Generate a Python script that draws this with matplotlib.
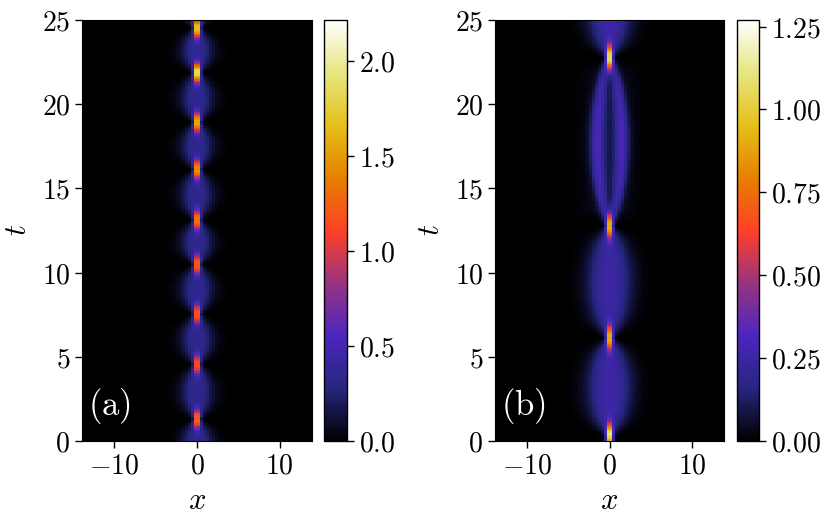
import numpy as np
import matplotlib
matplotlib.use('Agg')
import matplotlib.pyplot as plt

plt.rcParams['mathtext.fontset'] = 'cm'
plt.rcParams['font.family'] = 'serif'
plt.rcParams['font.serif'] = ['DejaVu Serif']

# grid seen in the picture
x_lim = 13.9
t_max = 25.0
nx, nt = 78, 260

# panel (a): bright peaks (time, height)
peaks_a_t = [1.25, 4.5, 7.5, 10.45, 13.1, 16.1, 18.9, 21.85, 24.5]
peaks_a_h = [1.45, 1.3, 1.35, 1.4, 1.55, 1.7, 1.85, 2.21, 2.0]
# blobs between peaks: edges, level, half width
blob_a_edges = [-1.7] + peaks_a_t + [27.4]
blob_a_level = [0.38] * 10
blob_a_width = [1.35] * 10
blob_a_ring = [False] * 10

# panel (b)
peaks_b_t = [0.25, 6.1, 12.75, 22.75]
peaks_b_h = [1.27, 1.0, 1.02, 1.2]
blob_b_edges = [0.25, 6.1, 12.75, 22.75, 29.0]
blob_b_level = [0.27, 0.26, 0.25, 0.27]
blob_b_width = [2.1, 2.1, 1.55, 2.2]
blob_b_ring = [False, False, True, False]

cb_a_ticks = [0.0, 0.5, 1.0, 1.5, 2.0]
cb_b_ticks = [0.0, 0.25, 0.5, 0.75, 1.0, 1.25]


def build_field(pk_t, pk_h, edges, levels, widths, rings, st, sx):
    x = np.linspace(-x_lim, x_lim, nx)
    t = np.linspace(0, t_max, nt)
    X, T = np.meshgrid(x, t)
    field = np.zeros_like(X)
    # blobs / rings
    for i in range(len(levels)):
        ta, tb = edges[i], edges[i + 1]
        s = np.clip((T - ta) / (tb - ta), 0, 1)
        env = np.sin(np.pi * s)
        if rings[i]:
            R = widths[i] * env ** 0.6
            d = 0.5 + 0.35 * env
            ridge = np.exp(-((np.abs(X) - R) / d) ** 2)
            field += levels[i] * env ** 0.3 * (ridge + 0.12 * np.exp(-(X / (R + 0.3)) ** 2))
        else:
            W = 0.3 + widths[i] * env ** 0.55
            prof = np.exp(-(X / W) ** 2) * (1 - 0.25 * env * np.exp(-(X / (0.5 * W)) ** 2))
            field += levels[i] * env ** 0.3 * prof
    # faint halo, cut out next to the peaks
    neck = np.zeros_like(X)
    for tk in pk_t:
        neck = np.maximum(neck, np.exp(-((T - tk) / 0.7) ** 2))
    field += 0.05 * np.exp(-(X / 3.0) ** 2) * (1 - 0.9 * neck)
    # bright peaks
    for tk, h in zip(pk_t, pk_h):
        field += h * np.exp(-((T - tk) / st) ** 2 - (X / sx) ** 2)
    return field


field_a = build_field(peaks_a_t, peaks_a_h, blob_a_edges, blob_a_level,
                      blob_a_width, blob_a_ring, 0.55, 0.35)
field_b = build_field(peaks_b_t, peaks_b_h, blob_b_edges, blob_b_level,
                      blob_b_width, blob_b_ring, 0.7, 0.4)

fig = plt.figure(figsize=(8.3, 5.19), dpi=100)
ax_a = fig.add_axes([0.0988, 0.1503, 0.2771, 0.8112])
cax_a = fig.add_axes([0.3904, 0.1503, 0.0277, 0.8112])
ax_b = fig.add_axes([0.5964, 0.1503, 0.2759, 0.8112])
cax_b = fig.add_axes([0.8880, 0.1503, 0.0265, 0.8112])

fmt = lambda v, p: '$%g$' % v

for ax, cax, fld, vmax, ticks, cfmt, lab in [
        (ax_a, cax_a, field_a, 2.215, cb_a_ticks, '$%.1f$', '(a)'),
        (ax_b, cax_b, field_b, 1.27, cb_b_ticks, '$%.2f$', '(b)')]:
    im = ax.imshow(fld, origin='lower', extent=[-x_lim, x_lim, 0, t_max],
                   aspect='auto', cmap='CMRmap', vmin=0, vmax=vmax,
                   interpolation='nearest')
    ax.set_xticks([-10, 0, 10])
    ax.set_yticks([0, 5, 10, 15, 20, 25])
    ax.xaxis.set_major_formatter(plt.FuncFormatter(fmt))
    ax.yaxis.set_major_formatter(plt.FuncFormatter(fmt))
    ax.tick_params(labelsize=20, length=5, width=1)
    ax.set_xlabel('$x$', fontsize=22)
    ax.set_ylabel('$t$', fontsize=22, labelpad=6)
    ax.text(0.025, 0.035, r'$\mathrm{' + lab + '}$', transform=ax.transAxes,
            color='white', fontsize=25, ha='left', va='bottom')
    cb = fig.colorbar(im, cax=cax, ticks=ticks)
    cb.ax.set_yticklabels([cfmt % v for v in ticks])
    cb.ax.tick_params(labelsize=20, length=5, width=1)
    cb.outline.set_linewidth(1)

fig.savefig('out.png', dpi=100)
